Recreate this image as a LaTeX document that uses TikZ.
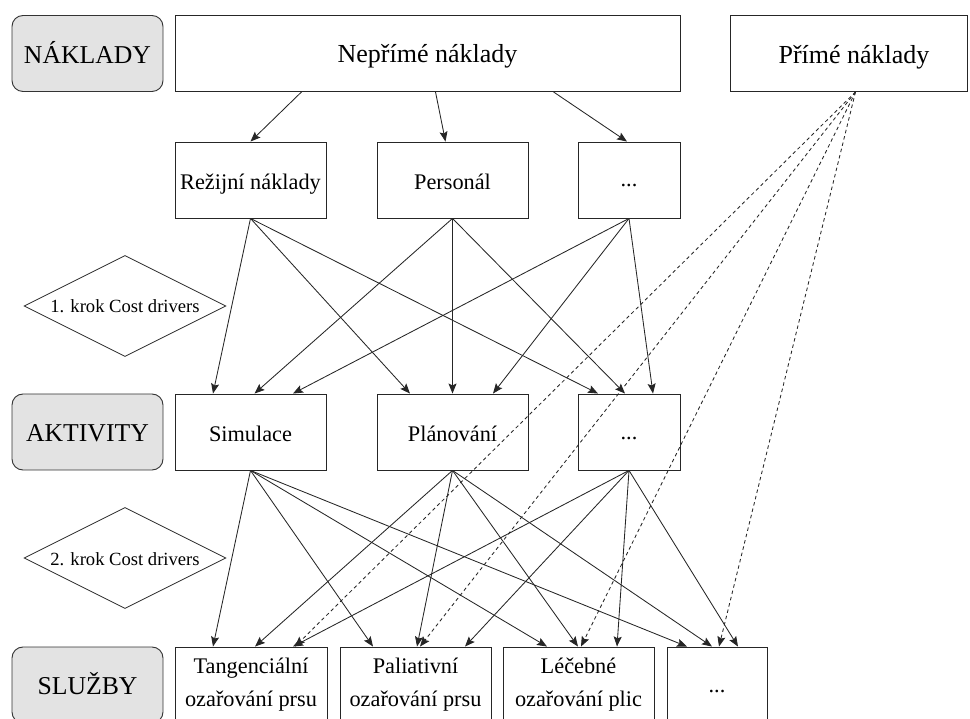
\documentclass[tikz,border=0pt]{standalone}
\usepackage{fontspec}
\setmainfont{Liberation Serif}
\usetikzlibrary{shapes.geometric,arrows.meta}

\begin{document}
\begin{tikzpicture}[x=1pt,y=-1pt,
  box/.style={draw=black!85, line width=0.9pt, inner sep=0pt, minimum height=76pt,
              text height=19pt, text depth=0pt},
  tag/.style={draw=black!80, line width=0.9pt, fill=gray!22, rounded corners=11pt, inner sep=0pt,
              minimum width=151pt, minimum height=76pt, text height=19.5pt, text depth=0pt,
              font=\rmfamily\fontsize{25.7}{30}\selectfont},
  drv/.style={diamond, draw=black!85, line width=0.8pt, inner sep=0pt, aspect=2,
              minimum width=202pt, minimum height=101pt, text height=14pt, text depth=0pt,
              font=\rmfamily\fontsize{18.6}{22}\selectfont},
  big/.style={font=\rmfamily\fontsize{26}{30}\selectfont},
  mid/.style={font=\rmfamily\fontsize{22.3}{30}\selectfont},
  dotted box/.style={box, mid, text height=14pt},
  line text/.style={mid, anchor=base, inner sep=0pt},
  flow/.style={draw=black!85, line width=0.85pt, -{Stealth[length=10pt,width=8pt,inset=1.8pt]}},
  direct/.style={flow, dash pattern=on 3.5pt off 3pt}
]
\useasboundingbox (0,0) rectangle (970,719);
\clip (0,0) rectangle (970,719);

% level labels
\node[tag] (lnak) at (87.5,53.5) {NÁKLADY};
\node[tag] (lakt) at (87.5,432) {AKTIVITY};
\node[tag] (lsluz) at (87.5,685) {SLUŽBY};

% cost level
\node[box, big, minimum width=505pt] (nep) at (427.5,53.5) {Nepřímé náklady};
\node[box, minimum width=237pt] (prim) at (848.5,53.5) {};
\node[line text, big] (primT) at (854,63.5) {Přímé náklady};

% indirect cost pools
\node[box, mid, minimum width=151pt] (rez) at (250.5,180) {Režijní náklady};
\node[box, mid, minimum width=151pt] (pers) at (452.5,180) {Personál};
\node[dotted box, minimum width=102pt] (dotsA) at (629,180) {...};

% cost drivers
\node[drv] (krokA) at (125,306) {1. krok Cost drivers};
\node[drv] (krokB) at (125,558) {2. krok Cost drivers};

% activities
\node[box, mid, minimum width=151pt] (sim) at (250.5,432) {Simulace};
\node[box, mid, minimum width=151pt] (plan) at (452.5,432) {Plánování};
\node[dotted box, minimum width=102pt] (dotsB) at (629,432) {...};

% services
\node[box, minimum width=152pt] (tang) at (251,685) {};
\node[box, minimum width=151pt] (pal) at (415.5,685) {};
\node[box, minimum width=151pt] (lec) at (578.5,685) {};
\node[dotted box, minimum width=100pt] (dotsC) at (717,685) {...};
\node[line text] (tangA) at (251,673) {Tangenciální};
\node[line text] (tangB) at (251,706) {ozařování prsu};
\node[line text] (palA) at (415.5,673) {Paliativní};
\node[line text] (palB) at (415.5,706) {ozařování prsu};
\node[line text] (lecA) at (578.5,673) {Léčebné};
\node[line text] (lecB) at (578.5,706) {ozařování plic};

% indirect costs split into pools
\draw[flow] ([xshift=-126pt]nep.south) -- (rez.north);
\draw[flow] ([xshift=8pt]nep.south) -- ([xshift=-7pt]pers.north);
\draw[flow] ([xshift=126pt]nep.south) -- ([xshift=-2pt]dotsA.north);

% pools to activities
\foreach \s/\t/\o in {rez/sim/-37.5, pers/sim/4, dotsA/sim/42.5,
                      rez/plan/-42.5, pers/plan/0, dotsA/plan/40.5,
                      rez/dotsB/-31, pers/dotsB/-4, dotsA/dotsB/24}
  \draw[flow] (\s.south) -- ([xshift=\o pt]\t.north);

% activities to services
\foreach \s/\t/\o in {sim/tang/-38, plan/tang/4, dotsB/tang/42,
                      sim/pal/-42.5, plan/pal/1.5, dotsB/pal/49.5,
                      sim/lec/-31.5, plan/lec/-0.5, dotsB/lec/38.5,
                      sim/dotsC/-30, plan/dotsC/-5, dotsB/dotsC/21}
  \draw[flow] (\s.south) -- ([xshift=\o pt]\t.north);

% direct costs straight to services
\foreach \t/\o in {tang/44, pal/4.5, lec/2.5, dotsC/2}
  \draw[direct] ([xshift=7pt]prim.south) -- ([xshift=\o pt]\t.north);
\end{tikzpicture}
\end{document}
